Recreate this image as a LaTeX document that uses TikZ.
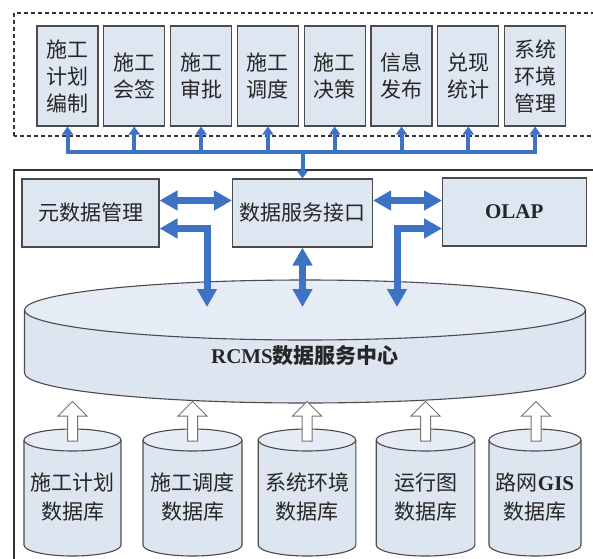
\documentclass[tikz,border=0pt]{standalone}
\usepackage{fontspec}
\setmainfont{Noto Sans CJK SC}
\newfontfamily\tnr{Liberation Serif}
\usetikzlibrary{arrows.meta}
\definecolor{boxfill}{RGB}{222,230,241}
\definecolor{cylfill}{RGB}{221,229,240}
\definecolor{cyltop}{RGB}{229,236,245}
\definecolor{arrblue}{RGB}{62,114,196}
\definecolor{edge}{RGB}{75,75,75}
\tikzset{
  topbox/.style={draw=edge, line width=1.1pt, fill=boxfill, minimum width=61pt, minimum height=100pt,
    inner sep=0pt, align=center, font=\fontsize{21}{27}\selectfont, text=black!85},
  midbox/.style={draw=edge, line width=1.1pt, fill=boxfill, minimum height=68pt, inner sep=0pt,
    font=\fontsize{21}{27}\selectfont, text=black!85},
  dbtext/.style={align=center, inner sep=0pt, font=\fontsize{21}{29}\selectfont, text=black!85},
  busline/.style={draw=arrblue, line width=4pt, line cap=rect},
  thinarrow/.style={draw=arrblue, line width=4pt, -{Triangle[width=11pt,length=8pt]}},
  thickarrow/.style={draw=arrblue, line width=7pt,
    {Triangle[width=19pt,length=18pt]}-{Triangle[width=19pt,length=18pt]}},
  hollowarrow/.style={draw=black!55, fill=white, line width=1pt, line join=miter},
  cylline/.style={draw=edge, line width=1.1pt},
  frame/.style={draw=black!80, line width=1.2pt},
  dashframe/.style={draw=black!80, line width=1.2pt, dash pattern=on 4pt off 3pt}
}
\newcommand\dbcyl[2]{%
  \fill[cylfill] ({#1-#2},118) -- ({#1-#2},13) arc[start angle=180,end angle=360,x radius=#2,y radius=11]
     -- ({#1+#2},118) arc[start angle=0,end angle=180,x radius=#2,y radius=11] -- cycle;
  \draw[cylline] ({#1-#2},118) -- ({#1-#2},13) arc[start angle=180,end angle=360,x radius=#2,y radius=11]
     -- ({#1+#2},118);
  \draw[cylline, fill=cyltop] (#1,118) ellipse[x radius=#2, y radius=11];
}
\newcommand\uparr[1]{%
  \draw[hollowarrow] ({#1-5},117) -- ({#1-5},142) -- ({#1-14.5},142) -- (#1,156.5)
     -- ({#1+14.5},142) -- ({#1+5},142) -- ({#1+5},117) -- cycle;
}
\begin{document}
\begin{tikzpicture}[x=1pt,y=1pt]
\useasboundingbox (0,0) rectangle (593,558);
\clip (0,0) rectangle (593,558);
\fill[white] (0,0) rectangle (593,558);

% frames
\draw[dashframe] (14,422) rectangle (610,545);
\draw[frame] (14,388) rectangle (610,-20);

% top boxes
\node[topbox] (t1) at (67.5,482) {施工\\计划\\编制};
\node[topbox] (t2) at (134.3,482) {施工\\会签};
\node[topbox] (t3) at (201.1,482) {施工\\审批};
\node[topbox] (t4) at (267.9,482) {施工\\调度};
\node[topbox] (t5) at (334.7,482) {施工\\决策};
\node[topbox] (t6) at (401.5,482) {信息\\发布};
\node[topbox] (t7) at (468.3,482) {兑现\\统计};
\node[topbox] (t8) at (535.1,482) {系统\\环境\\管理};

% middle boxes
\node[midbox, minimum width=137pt] (meta) at (90.5,345) {元数据管理};
\node[midbox, minimum width=140pt] (api) at (302.5,345) {数据服务接口};
\node[midbox, minimum width=143.5pt] (olap) at (514.3,346) {\tnr\bfseries OLAP};

% bus
\coordinate (bus) at (302.5,406);
\draw[busline] (t1.south |- bus) -- (t8.south |- bus);
\foreach \i in {1,...,8} {
  \draw[thinarrow] (t\i.south |- bus) -- (t\i.south);
}
\draw[thinarrow] (bus) -- (api.north);

% big cylinder
\fill[cylfill] (24.5,248) -- (24.5,185) arc[start angle=180,end angle=360,x radius=280.5,y radius=30]
   -- (585.5,248) arc[start angle=0,end angle=180,x radius=280.5,y radius=30] -- cycle;
\draw[cylline] (24.5,248) -- (24.5,185) arc[start angle=180,end angle=360,x radius=280.5,y radius=30]
   -- (585.5,248);
\draw[cylline, fill=cyltop] (305,248) ellipse[x radius=280.5, y radius=30];
\node[dbtext] (hub) at (305,202) {{\tnr\bfseries RCMS}\bfseries 数据服务中心};

% thick arrows
\coordinate (hA) at (0,357.5);
\coordinate (hB) at (0,329.5);
\coordinate (c1) at (207,251);
\coordinate (c2) at (302.5,251);
\coordinate (c3) at (397,251);
\draw[thickarrow] (meta.east |- hA) -- (api.west |- hA);
\draw[thickarrow] (api.east |- hA) -- (olap.west |- hA);
\draw[thickarrow] (meta.east |- hB) -| (c1);
\draw[thickarrow] (olap.west |- hB) -| (c3);
\draw[thickarrow] (api.south) -- (c2);

% small cylinders
\dbcyl{72.5}{48.5}
\dbcyl{192.5}{49.5}
\dbcyl{307}{48.8}
\dbcyl{425.5}{49.3}
\dbcyl{535}{46}
\node[dbtext] (d1) at (72.5,60.5) {施工计划\\数据库};
\node[dbtext] (d2) at (192.5,60.5) {施工调度\\数据库};
\node[dbtext] (d3) at (307,60.5) {系统环境\\数据库};
\node[dbtext] (d4) at (425.5,60.5) {运行图\\数据库};
\node[dbtext] (d5) at (535,60.5) {路网{\tnr\bfseries GIS}\\数据库};

% hollow arrows
\uparr{72.5}
\uparr{192.5}
\uparr{307}
\uparr{425.5}
\uparr{536}
\end{tikzpicture}
\end{document}
